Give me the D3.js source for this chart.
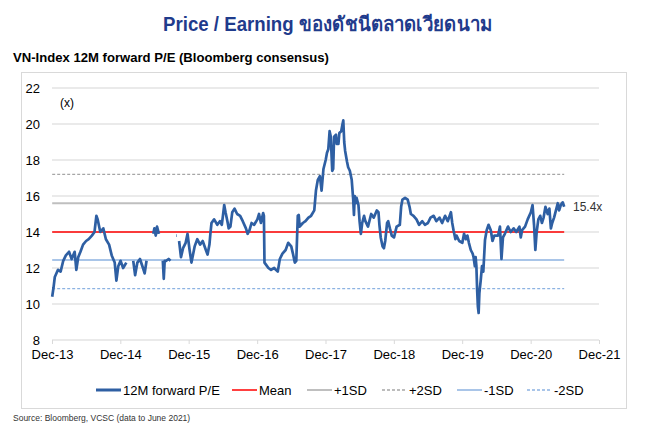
<!DOCTYPE html>
<html>

<head>
	<meta charset="utf-8">
	<script src="https://d3js.org/d3.v7.min.js"></script>
	<title>VN-Index P/E</title>
	<style>
		body {
			margin: 0;
			background: #fff;
		}

		svg text {
			font-family: "Liberation Sans", Arial, "Noto Sans", sans-serif;
		}
	</style>
</head>

<body>
	<div id="my_dataviz"></div>
	<script>

		// 12M forward P/E (null = gap in the series)
		let peDates = [
			"2014-01-01", "2014-01-08", "2014-01-15", "2014-02-01", "2014-02-15", "2014-03-01", "2014-03-15", "2014-04-01", "2014-04-15", "2014-05-01",
			"2014-05-10", "2014-05-20", "2014-06-01", "2014-06-15", "2014-07-01", "2014-07-15", "2014-08-01", "2014-08-15", "2014-08-25", "2014-09-01",
			"2014-09-15", "2014-10-01", "2014-10-15", "2014-11-01", "2014-11-15", "2014-12-01", "2014-12-10", "2014-12-20",
			"2015-01-01", "2015-01-15", "2015-02-01", "2015-02-10", "2015-03-10", "2015-03-20", "2015-04-01", "2015-04-15", "2015-05-01", "2015-05-10",
			"2015-05-20", "2015-06-01", "2015-06-25", "2015-07-01", "2015-07-08", "2015-07-15", "2015-07-25", "2015-08-01", "2015-08-15", "2015-08-20",
			"2015-08-25", "2015-09-01", "2015-09-15", "2015-09-25", "2015-10-01", "2015-10-25", "2015-10-28", "2015-11-01", "2015-11-10", "2015-11-20",
			"2015-12-01", "2015-12-15", "2015-12-25",
			"2016-01-05", "2016-01-15", "2016-02-01", "2016-02-15", "2016-03-01", "2016-03-15", "2016-04-01", "2016-04-10", "2016-04-20", "2016-04-25",
			"2016-05-01", "2016-05-15", "2016-06-01", "2016-06-15", "2016-06-25", "2016-07-01", "2016-07-08", "2016-07-15", "2016-07-25", "2016-08-01",
			"2016-08-10", "2016-08-20", "2016-09-01", "2016-09-15", "2016-10-01", "2016-10-15", "2016-11-01", "2016-11-10", "2016-11-20", "2016-12-01",
			"2016-12-15",
			"2017-01-01", "2017-01-10", "2017-01-20", "2017-02-01", "2017-02-05", "2017-02-08", "2017-02-15", "2017-03-01", "2017-03-15", "2017-04-01",
			"2017-04-10", "2017-04-20", "2017-05-01", "2017-05-15", "2017-06-01", "2017-06-15", "2017-07-01", "2017-07-10", "2017-07-20", "2017-07-28",
			"2017-08-05", "2017-08-10", "2017-08-15", "2017-09-01", "2017-09-15", "2017-10-01", "2017-10-15", "2017-11-01", "2017-11-10", "2017-11-20",
			"2017-12-01", "2017-12-10", "2017-12-20",
			"2018-01-01", "2018-01-08", "2018-01-15", "2018-01-22", "2018-01-28", "2018-02-05", "2018-02-10", "2018-02-15", "2018-02-25", "2018-03-01",
			"2018-03-10", "2018-03-15", "2018-03-25", "2018-04-01", "2018-04-05", "2018-04-10", "2018-04-15", "2018-04-25", "2018-05-01", "2018-05-10",
			"2018-05-20", "2018-05-28", "2018-06-01", "2018-06-05", "2018-06-10", "2018-06-15", "2018-06-25", "2018-07-01", "2018-07-08", "2018-07-15",
			"2018-07-25", "2018-08-01", "2018-08-15", "2018-09-01", "2018-09-15", "2018-10-01", "2018-10-10", "2018-10-15", "2018-10-22", "2018-11-01",
			"2018-11-08", "2018-11-15", "2018-11-25", "2018-12-01", "2018-12-10", "2018-12-20",
			"2019-01-01", "2019-01-15", "2019-02-01", "2019-02-08", "2019-02-15", "2019-03-01", "2019-03-15", "2019-03-25", "2019-04-01", "2019-04-15",
			"2019-05-01", "2019-05-15", "2019-06-01", "2019-06-15", "2019-07-01", "2019-07-15", "2019-08-01", "2019-08-15", "2019-09-01", "2019-09-15",
			"2019-10-01", "2019-10-15", "2019-11-01", "2019-11-08", "2019-11-15", "2019-11-25", "2019-12-01", "2019-12-15",
			"2020-01-01", "2020-01-10", "2020-01-20", "2020-01-28", "2020-02-05", "2020-02-15", "2020-02-25", "2020-03-01", "2020-03-08", "2020-03-12",
			"2020-03-16", "2020-03-20", "2020-03-24", "2020-03-28", "2020-04-01", "2020-04-08", "2020-04-15", "2020-04-22", "2020-05-01", "2020-05-10",
			"2020-05-20", "2020-06-01", "2020-06-10", "2020-06-20", "2020-07-01", "2020-07-10", "2020-07-20", "2020-07-28", "2020-08-05", "2020-08-15",
			"2020-09-01", "2020-09-15", "2020-10-01", "2020-10-15", "2020-11-01", "2020-11-08", "2020-11-15", "2020-12-01", "2020-12-15",
			"2021-01-01", "2021-01-10", "2021-01-18", "2021-01-25", "2021-02-01", "2021-02-10", "2021-02-20", "2021-03-01", "2021-03-10", "2021-03-20",
			"2021-04-01", "2021-04-10", "2021-04-18", "2021-04-25", "2021-05-05", "2021-05-15", "2021-05-25", "2021-06-01", "2021-06-10", "2021-06-20",
			"2021-06-28"
		];

		let peValues = [
			10.4, 10.9, 11.5, 11.9, 11.8, 12.4, 12.7, 12.9, 12.5, 12.9,
			11.9, 12.6, 12.9, 13.3, 13.5, 13.6, 13.8, 14.0, 14.9, 14.7,
			14.0, 14.2, 13.6, 13.3, 12.7, 12.3, 11.3, 12.1,
			12.4, 12.0, 12.3, null, 12.4, 11.6, 12.3, 12.5, 12.0, 11.7,
			12.4, null, 13.9, 14.2, 13.8, 14.3, 13.9, null, 12.4, 11.4,
			12.4, 12.4, 12.5, 12.4, null, 13.8, 13.8, null, 13.5, 12.6,
			13.1, 13.4, 13.9,
			13.0, 12.3, 13.2, 13.6, 13.3, 13.5, 13.0, 12.75, 13.3, 13.9,
			14.5, 14.7, 14.4, 14.6, 14.4, 14.9, 15.5, 15.1, 14.6, 14.2,
			14.3, 15.1, 15.3, 15.0, 14.9, 14.6, 14.2, 13.9, 14.1, 14.5,
			14.4,
			14.7, 15.0, 14.5, 15.05, 14.9, 12.3, 12.2, 12.0, 11.9, 12.0,
			11.9, 11.8, 12.5, 12.8, 13.0, 13.4, 13.2, 12.8, 12.3, 12.4,
			14.9, 14.95, 14.3, 14.5, 14.6, 14.8, 14.9, 15.2, 16.3, 16.9,
			17.1, 16.3, 17.5,
			18.0, 18.4, 18.6, 19.6, 19.3, 17.4, 17.5, 19.3, 19.4, 18.9,
			18.9, 19.5, 19.6, 20.0, 20.2, 19.0, 18.5, 17.9, 17.6, 17.4,
			16.9, 15.8, 14.95, 16.0, 15.6, 15.9, 15.5, 14.6, 13.9, 14.5,
			14.9, 14.6, 14.3, 15.0, 14.8, 15.2, 15.1, 14.4, 13.7, 13.2,
			13.1, 13.5, 14.5, 14.6, 14.2, 13.8,
			13.7, 14.3, 14.4, 15.4, 15.8, 15.9, 15.8, 15.4, 15.0, 14.9,
			14.7, 14.4, 14.6, 14.4, 14.5, 14.8, 14.9, 14.6, 14.8, 14.5,
			14.9, 14.6, 15.1, 14.5, 14.1, 13.6, 13.8, 13.5,
			13.4, 13.9, 13.6, 13.8, 13.4, 13.0, 12.8, 12.6, 12.1, 12.6,
			12.1, 10.8, 9.85, 9.5, 10.6, 11.3, 12.1, 11.8, 13.55, 14.1,
			14.4, 14.1, 13.5, 13.8, 13.8, 13.8, 14.3, 12.5, 13.7, 13.9,
			14.3, 14.0, 14.2, 14.0, 14.3, 13.7, 14.1, 14.3, 14.7,
			15.1, 15.5, 14.4, 13.0, 14.0, 14.7, 14.9, 14.5, 14.8, 15.4,
			15.0, 15.3, 14.2, 14.5, 14.8, 15.2, 15.6, 15.2, 15.5, 15.65,
			15.4
		];

		// mean and standard deviation bands
		let bandNames = ["Mean", "+1SD", "+2SD", "-1SD", "-2SD"];
		let bandValues = [14.0, 15.6, 17.2, 12.45, 10.85];

		let xTickLabels = ["Dec-13", "Dec-14", "Dec-15", "Dec-16", "Dec-17", "Dec-18", "Dec-19", "Dec-20", "Dec-21"];
		let yTicks = [8, 10, 12, 14, 16, 18, 20, 22];
		let lastLabel = "15.4x";

		let legendNames = ["12M forward P/E", "Mean", "+1SD", "+2SD", "-1SD", "-2SD"];

		let W = 652, H = 436;
		let margin = { top: 88, right: 53, bottom: 96, left: 52 };

		let svg = d3.select("#my_dataviz")
			.append("svg")
			.attr("width", W)
			.attr("height", H);

		// title + subtitle
		svg.append("text")
			.attr("x", 163).attr("y", 31)
			.attr("font-size", 20)
			.attr("font-weight", "bold")
			.attr("fill", "#1f3b8c")
			.attr("textLength", 329)
			.attr("lengthAdjust", "spacingAndGlyphs")
			.text("Price / Earning ของดัชนีตลาดเวียดนาม");

		svg.append("text")
			.attr("x", 13).attr("y", 62)
			.attr("font-size", 12.5)
			.attr("font-weight", "bold")
			.attr("fill", "#000")
			.attr("textLength", 316)
			.attr("lengthAdjust", "spacingAndGlyphs")
			.text("VN-Index 12M forward P/E (Bloomberg consensus)");

		// chart frame
		svg.append("rect")
			.attr("x", 21.5).attr("y", 72.5)
			.attr("width", 605).attr("height", 336)
			.attr("fill", "none")
			.attr("stroke", "#d9d9d9");

		let parse = d3.timeParse("%Y-%m-%d");
		let x = d3.scaleTime()
			.domain([parse("2013-12-31"), parse("2021-12-31")])
			.range([margin.left, W - margin.right]);
		let y = d3.scaleLinear().domain([8, 22]).range([H - margin.bottom, margin.top]);

		// gridlines
		svg.append("g")
			.selectAll("line")
			.data(yTicks)
			.enter().append("line")
			.attr("x1", x.range()[0]).attr("x2", x.range()[1])
			.attr("y1", d => y(d)).attr("y2", d => y(d))
			.attr("stroke", "#e3e3e3")
			.attr("stroke-width", 1.5);

		// y axis labels
		let yAxis = d3.axisLeft(y).tickValues(yTicks).tickSize(0).tickPadding(12);
		let yg = svg.append("g").attr("transform", "translate(" + margin.left + ",0)").call(yAxis);
		yg.select(".domain").remove();
		yg.selectAll("text").attr("font-size", 13).attr("fill", "#000").attr("font-family", null);

		// x axis
		let xTickDates = xTickLabels.map((d, i) => parse((2013 + i) + "-12-31"));
		let xAxis = d3.axisBottom(x).tickValues(xTickDates).tickSize(4).tickPadding(6)
			.tickFormat((d, i) => xTickLabels[i]);
		let xg = svg.append("g").attr("transform", "translate(0," + y(8) + ")").call(xAxis);
		xg.select(".domain").remove();
		xg.selectAll("line").attr("stroke", "#d9d9d9");
		xg.selectAll("text").attr("font-size", 13).attr("fill", "#000").attr("font-family", null);

		svg.append("text")
			.attr("x", 60).attr("y", 107)
			.attr("font-size", 12)
			.text("(x)");

		// band lines
		let bandStyle = {
			"Mean": { stroke: "#ff0000", width: 1.5, dash: null },
			"+1SD": { stroke: "#bfbfbf", width: 2, dash: null },
			"+2SD": { stroke: "#a6a6a6", width: 1.2, dash: "3,2" },
			"-1SD": { stroke: "#a9c5e8", width: 2, dash: null },
			"-2SD": { stroke: "#8db3e2", width: 1.2, dash: "3,2" }
		};
		let firstDate = parse(peDates[0]), lastDate = parse(peDates[peDates.length - 1]);

		svg.append("g")
			.selectAll("line")
			.data(bandNames.map((n, i) => ({ name: n, value: bandValues[i] })))
			.enter().append("line")
			.attr("x1", x(firstDate)).attr("x2", x(lastDate))
			.attr("y1", d => y(d.value)).attr("y2", d => y(d.value))
			.attr("stroke", d => bandStyle[d.name].stroke)
			.attr("stroke-width", d => bandStyle[d.name].width)
			.attr("stroke-dasharray", d => bandStyle[d.name].dash);

		// P/E line
		let series = peDates.map((d, i) => ({ date: parse(d), value: peValues[i] }));
		let line = d3.line()
			.defined(d => d.value != null)
			.x(d => x(d.date))
			.y(d => y(d.value));

		svg.append("path")
			.datum(series)
			.attr("fill", "none")
			.attr("stroke", "#2e5fa3")
			.attr("stroke-width", 2.7)
			.attr("stroke-linejoin", "round")
			.attr("d", line);

		svg.append("text")
			.attr("x", 573).attr("y", 211)
			.attr("font-size", 12)
			.attr("fill", "#333")
			.text(lastLabel);

		// legend
		let legendStyle = [
			{ stroke: "#2e5fa3", width: 3, dash: null },
			bandStyle["Mean"], bandStyle["+1SD"], bandStyle["+2SD"], bandStyle["-1SD"], bandStyle["-2SD"]
		];
		let legendX = [96, 232, 307, 382, 457, 527];
		let legend = svg.append("g")
			.selectAll("g")
			.data(legendNames)
			.enter().append("g")
			.attr("transform", (d, i) => "translate(" + legendX[i] + ",390)");

		legend.append("line")
			.attr("x1", 0).attr("x2", 25)
			.attr("stroke", (d, i) => legendStyle[i].stroke)
			.attr("stroke-width", (d, i) => Math.max(legendStyle[i].width, 1.5))
			.attr("stroke-dasharray", (d, i) => legendStyle[i].dash);

		legend.append("text")
			.attr("x", 27).attr("y", 5)
			.attr("font-size", 13)
			.text(d => d);

		svg.append("text")
			.attr("x", 13).attr("y", 421)
			.attr("font-size", 8.5)
			.attr("fill", "#333")
			.text("Source: Bloomberg, VCSC (data to June 2021)");

	</script>
</body>

</html>
